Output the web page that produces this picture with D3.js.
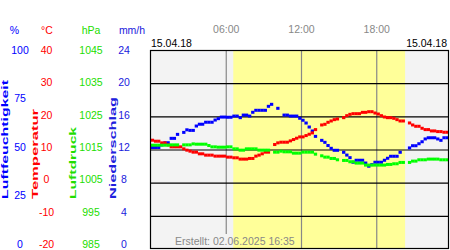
<!DOCTYPE html>
<html>
<head>
<meta charset="utf-8">
<script src="https://cdnjs.cloudflare.com/ajax/libs/d3/7.8.5/d3.min.js"></script>
<style>
body { margin: 0; background: #fff; }
svg { display: block; font-family: "Liberation Sans", Arial, sans-serif; }
.domain { display: none; }
</style>
</head>
<body>
<div class="chart"></div>
<script>

// 15 minute readings, 00:00 - 23:45, null = no reading
const stepHours = 0.25
const humidity = [51, 51, 51, 52.3, 53.4, 53.4, 55.6, 55.6, 57.6, null,
    58.6, 59.9, 59.6, 59.6, 61.8, 62.7, 62.7, 63.7, 63.7, 63.7,
    64.8, 65.5, 66.3, 66.3, 66.2, 66.2, 66.8, 66.8, 66, 67.3,
    67.3, 66.8, 68.7, 69.7, 69.7, 69.7, 69.7, 71.7, 72.7, null,
    70.7, null, 67.3, 67.3, 66.8, 66.8, 66.8, 65.7, 64.7, 63.3,
    61.3, 59.3, 56.6, null, 54.6, 53.6, 52, 50.6, 49.6, 49.6,
    null, 48.6, 47.2, 45.9, 43.6, 44.6, 44.6, 44.6, 43.2, 41.6,
    42.4, 43.6, 43.6, 43.6, 44.6, 45.6, 46.6, 46.6, 46.6, 48.6,
    null, null, 50.8, 51.9, 51.9, 52.9, 53.9, 55.3, 55.9, 55.9,
    55.9, 55.3, 54.6, 55.9, 55.9, 55.9]
const temperature = [12.8, 12.5, 12.5, 12.0, 12.0, 11.4, 10.8, 10.8, 10.8, 10.8,
    10.2, 9.8, 9.5, 9.2, 9.2, 8.7, 8.7, 8.3, 8.3, 8.3,
    8.0, 8.0, 8.0, 8.0, 7.7, 7.7, 7.5, 7.5, 7.1, 7.1,
    7.1, 7.3, 7.3, 8.0, 8.3, 8.7, 9.2, 9.2, null, 11.5,
    12.0, 12.2, 12.2, 12.2, 12.6, 13.0, 13.4, 13.8, 13.8, 14.2,
    14.6, 15.0, 16.0, null, 17.4, 17.6, 18.2, 18.6, 19.0, 19.2,
    null, 19.6, 20.2, 20.6, 20.8, 20.8, 20.8, 21.2, 21.2, 21.4,
    21.4, 21.0, 20.7, 20.2, 19.8, 19.6, 19.6, 19.4, 19.0, 18.6,
    18.6, null, 18.0, 17.4, 17.0, 17.0, 16.4, 16.0, 16.0, 15.6,
    15.6, 15.4, 15.4, 15.2, 15.2, 15.2]
const pressure = [1016.3, 1016.3, 1016.3, 1016.3, 1016.3, 1016.3, 1016.4, 1016.4, 1016.4, null,
    1016.4, 1016.4, 1016.4, 1016.7, 1016.6, 1016.6, 1016.6, 1016.6, 1016.2, 1015.8,
    1015.8, 1015.7, 1015.7, 1015.7, 1015.8, 1015.8, 1015.2, 1015.2, 1014.8, 1014.8,
    1015.2, 1015.2, 1015.2, 1015.2, 1014.8, 1014.8, 1014.8, 1014.8, null, 1014.2,
    1014.2, 1014.5, 1014.3, 1014.3, 1014.3, 1013.9, 1013.9, 1013.9, 1014.2, 1014.2,
    1014.2, 1014.2, 1013.6, null, 1013.1, 1012.7, 1012.7, 1012.3, 1012.3, 1011.9,
    null, 1011.7, 1011.7, 1011.3, 1011.3, 1010.9, 1010.9, 1010.9, 1010.3, 1010.3,
    1010.3, 1010.3, 1010.3, 1010.3, 1010.3, 1010.5, 1010.5, 1010.7, 1010.7, 1011.1,
    1011.1, null, 1011.1, 1011.5, 1011.5, 1011.9, 1011.9, 1011.9, 1012.1, 1012.1,
    1012.1, 1012.1, 1011.9, 1011.9, 1011.9, 1011.9]

const humTicks = [0, 25, 50, 75, 100]
const tempTicks = [-20, -10, 0, 10, 20, 30, 40]
const presTicks = [985, 995, 1005, 1015, 1025, 1035, 1045]
const rainTicks = [0, 4, 8, 12, 16, 20, 24]
const timeTicks = [6, 12, 18]
const timeLabels = ["06:00", "12:00", "18:00"]
const sunrise = 6.6
const sunset = 20.3
const dateLabel = "15.04.18"
const createdLabel = "Erstellt: 02.06.2025 16:35"

const colors = {hum: "#0000ff", temp: "#ff0000", pres: "#00ff00", presText: "#22dd00", rain: "#2020dd", gray: "#888"}

let plot = {left: 150, right: 449, top: 50, bottom: 249}
let w = plot.right - plot.left

const svg = d3.select(".chart")
    .append("svg")
    .attr("width", 450)
    .attr("height", 250)

const x = d3.scaleLinear().domain([0, 24]).range([plot.left + 0.5, plot.left + 301.5])
const yHum = d3.scaleLinear().domain([0, 100]).range([plot.bottom, plot.top])
const yTemp = d3.scaleLinear().domain([-20, 40]).range([plot.bottom, plot.top])
const yPres = d3.scaleLinear().domain([985, 1045]).range([plot.bottom, plot.top])
// tick labels sit a little above their grid line, more so toward the bottom
const labHum = d3.scaleLinear().domain([0, 100]).range([244, 50])
const labTemp = d3.scaleLinear().domain([-20, 40]).range([244, 50])
const labPres = d3.scaleLinear().domain([985, 1045]).range([244, 50])
const labRain = d3.scaleLinear().domain([0, 24]).range([244, 50])

svg.append("clipPath")
    .attr("id", "clip")
    .append("rect")
    .attr("x", plot.left)
    .attr("y", plot.top)
    .attr("width", w)
    .attr("height", plot.bottom - plot.top)

const area = svg.append("g").attr("clip-path", "url(#clip)")

area.append("rect")
    .attr("x", plot.left)
    .attr("y", plot.top)
    .attr("width", w)
    .attr("height", plot.bottom - plot.top)
    .attr("fill", "#f3f3f3")

area.append("rect")
    .attr("x", x(sunrise))
    .attr("y", plot.top)
    .attr("width", x(sunset) - x(sunrise))
    .attr("height", plot.bottom - plot.top)
    .attr("fill", "#ffff99")

// footer text first so the 06:00 line can stop above it
const footer = svg.append("text")
    .attr("x", 175)
    .attr("y", 245)
    .attr("fill", colors.gray)
    .style("font-size", "10.5px")
    .text(createdLabel)
const fb = footer.node().getBBox()

const vgrid = area.append("g")
    .attr("transform", `translate(0, ${plot.top})`)
    .call(d3.axisBottom(x).tickValues(timeTicks).tickSize(plot.bottom - plot.top).tickFormat(""))
vgrid.selectAll("line").attr("stroke", "#888").attr("stroke-width", 1.2)
vgrid.selectAll(".tick").filter(d => x(d) > fb.x && x(d) < fb.x + fb.width)
    .select("line").attr("y2", fb.y - plot.top - 1)

const hgrid = area.append("g")
    .attr("transform", `translate(${plot.left}, 0)`)
    .call(d3.axisLeft(yTemp).tickValues([-10, 0, 10, 20, 30]).tickSize(-w).tickFormat(""))
hgrid.selectAll("line")
    .attr("stroke", "#000")
    .attr("stroke-width", 1.2)

function drawSeries(values, yScale, color) {
    const pts = values.map((v, i) => ({t: i * stepHours, v: v})).filter(d => d.v != null)
    area.append("g")
        .selectAll("rect")
        .data(pts)
        .enter()
        .append("rect")
        .attr("x", d => x(d.t) + 0.3)
        .attr("y", d => yScale(d.v) - 1.5)
        .attr("width", 3.3)
        .attr("height", 3)
        .attr("fill", color)
}

drawSeries(humidity, yHum, colors.hum)
drawSeries(temperature, yTemp, colors.temp)
drawSeries(pressure, yPres, colors.pres)

svg.append("rect")
    .attr("x", plot.left + 0.5)
    .attr("y", plot.top + 0.5)
    .attr("width", w - 1)
    .attr("height", plot.bottom - plot.top - 1)
    .attr("fill", "none")
    .attr("stroke", "#000")
    .attr("stroke-width", 1.2)

// top labels
const timeAxis = svg.append("g")
    .attr("transform", "translate(0, 33)")
    .call(d3.axisTop(x).tickValues(timeTicks).tickSize(0).tickPadding(0).tickFormat((d, i) => timeLabels[i]))
timeAxis.selectAll("text")
    .attr("fill", colors.gray)
    .style("font-size", "10.5px")

svg.append("text")
    .attr("x", plot.left + 1)
    .attr("y", 47)
    .style("font-size", "10.5px")
    .text(dateLabel)

svg.append("text")
    .attr("x", 447)
    .attr("y", 47)
    .attr("text-anchor", "end")
    .style("font-size", "10.5px")
    .text(dateLabel)

// left scales
function labelAxis(scale, ticks, cx, color) {
    const g = svg.append("g")
        .attr("transform", `translate(${cx}, 0)`)
        .call(d3.axisLeft(scale).tickValues(ticks).tickSize(0).tickPadding(0).tickFormat(d => String(d)))
    g.selectAll("text")
        .attr("x", 0)
        .attr("text-anchor", "middle")
        .attr("fill", color)
        .style("font-size", "10.5px")
    g.selectAll("line").remove()
}

labelAxis(labHum, humTicks, 20, colors.hum)
labelAxis(labTemp, tempTicks, 46.5, colors.temp)
labelAxis(labPres, presTicks, 91, colors.presText)
labelAxis(labRain, rainTicks, 124, colors.rain)

const headers = [
    {text: "%", x: 14.5, color: colors.hum},
    {text: "°C", x: 47, color: colors.temp},
    {text: "hPa", x: 91, color: colors.presText},
    {text: "mm/h", x: 132, color: colors.rain}
]
svg.selectAll(".header")
    .data(headers)
    .enter()
    .append("text")
    .attr("class", "header")
    .attr("x", d => d.x)
    .attr("y", 34)
    .attr("text-anchor", "middle")
    .attr("fill", d => d.color)
    .style("font-size", "10.5px")
    .text(d => d.text)

const titles = [
    {text: "Luftfeuchtigkeit", x: 7.5, len: 119, color: colors.hum},
    {text: "Temperatur", x: 37.5, len: 90, color: colors.temp},
    {text: "Luftdruck", x: 76, len: 72, color: colors.presText},
    {text: "Niederschlag", x: 115.5, len: 102, color: colors.rain}
]
svg.selectAll(".title")
    .data(titles)
    .enter()
    .append("text")
    .attr("class", "title")
    .attr("transform", d => `translate(${d.x}, 199) rotate(-90)`)
    .attr("textLength", d => d.len)
    .attr("lengthAdjust", "spacingAndGlyphs")
    .attr("fill", d => d.color)
    .style("font-size", "9px")
    .style("font-weight", "bold")
    .text(d => d.text)

</script>
</body>
</html>
